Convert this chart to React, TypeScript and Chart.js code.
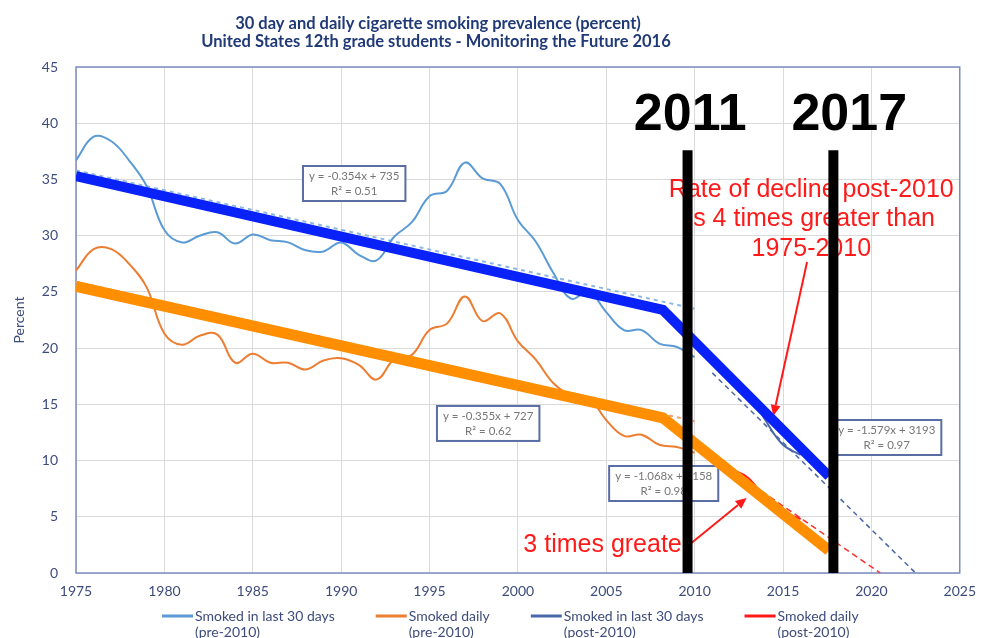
import React, { useEffect, useRef } from "react";
import { Chart, registerables } from "chart.js";

Chart.register(...registerables);

// ---------- DATA ----------
const yearsPre = [
  1975, 1976, 1977, 1978, 1979, 1980, 1981, 1982, 1983, 1984, 1985, 1986,
  1987, 1988, 1989, 1990, 1991, 1992, 1993, 1994, 1995, 1996, 1997, 1998,
  1999, 2000, 2001, 2002, 2003, 2004, 2005, 2006, 2007, 2008, 2009, 2010,
];
const smoked30Pre = [
  36.7, 38.8, 38.4, 36.7, 34.4, 30.5, 29.4, 30.0, 30.3, 29.3, 30.1, 29.6,
  29.4, 28.7, 28.6, 29.4, 28.3, 27.8, 29.9, 31.2, 33.5, 34.0, 36.5, 35.1,
  34.6, 31.4, 29.5, 26.7, 24.4, 25.0, 23.2, 21.6, 21.6, 20.4, 20.1, 19.2,
];
const smokedDailyPre = [
  26.9, 28.8, 28.8, 27.5, 25.4, 21.3, 20.3, 21.1, 21.2, 18.7, 19.5, 18.7,
  18.7, 18.1, 18.9, 19.1, 18.5, 17.2, 19.0, 19.4, 21.6, 22.2, 24.6, 22.4,
  23.1, 20.6, 19.0, 16.9, 15.8, 15.6, 13.6, 12.2, 12.3, 11.4, 11.2, 10.7,
];
const yearsPost = [2011, 2012, 2013, 2014, 2015, 2016];
const smoked30Post = [18.7, 17.1, 16.3, 13.6, 11.4, 10.5];
const smokedDailyPost = [10.3, 9.3, 8.5, 6.7, 5.5, 4.8];

// trendlines (end points)
const trend30PreYears = [1975, 2010];
const trend30PreValues = [35.8, 23.5];
const trendDailyPreYears = [1975, 2010];
const trendDailyPreValues = [25.9, 13.5];
const trend30PostYears = [2011, 2022.5];
const trend30PostValues = [17.8, 0];
const trendDailyPostYears = [2011, 2020.5];
const trendDailyPostValues = [10.3, 0];

// thick overlay lines
const thick30Years = [1975, 2008.2, 2017.6];
const thick30Values = [35.3, 23.4, 8.6];
const thickDailyYears = [1975, 2008.2, 2017.6];
const thickDailyValues = [25.5, 13.8, 2.0];

// vertical markers
const markerYears = [2009.6, 2017.85];
const markerBottom = 0;
const markerTop = 37.6;
const markerLabels = ["2011", "2017"];
const markerLabelYears = [2009.75, 2018.75];
const markerLabelValue = 39.4;

// axis ticks
const xMin = 1975;
const xMax = 2025;
const xStep = 5;
const yMin = 0;
const yMax = 45;
const yStep = 5;

// texts
const titleLines = [
  "30 day and daily cigarette smoking prevalence (percent)",
  "United States 12th grade students - Monitoring the Future 2016",
];
const yAxisTitle = "Percent";
const legendLabels = [
  ["Smoked in last 30 days", "(pre-2010)"],
  ["Smoked daily", "(pre-2010)"],
  ["Smoked in last 30 days", "(post-2010)"],
  ["Smoked daily", "(post-2010)"],
];
const equationTexts = [
  ["y = -0.354x + 735", "R² = 0.51"],
  ["y = -0.355x + 727", "R² = 0.62"],
  ["y = -1.068x + 2158", "R² = 0.98"],
  ["y = -1.579x + 3193", "R² = 0.97"],
];
const equationYears = [1990.74, 1998.32, 2008.25, 2020.87];
const equationValues = [34.64, 13.3, 7.96, 12.05];

const noteLines = ["Rate of decline post-2010", "is 4 times greater than", "1975-2010"];
const noteYear = 2016.6;
const noteValue = 33.44;
const note2Text = "3 times greater";
const note2Year = 2000.31;
const note2Value = 1.87;
const arrowStarts = [
  [2016.36, 27.66],
  [2009.68, 2.49],
];
const arrowEnds = [
  [2014.45, 13.96],
  [2012.94, 6.67],
];

// ---------- STYLE ----------
const C_LIGHTBLUE = "#5B9BD5";
const C_ORANGE = "#ED7D31";
const C_DARKBLUE = "#4A67A8";
const C_RED = "#FF1A1A";
const C_THICKBLUE = "#0A22FA";
const C_THICKORANGE = "#FF8E00";
const C_AXISTEXT = "#3E4C7C";
const C_TITLE = "#203A78";
const C_FRAME = "#7D8DC0";

const toXY = (xs: number[], ys: number[]) => xs.map((x, i) => ({ x, y: ys[i] }));

const overlayPlugin = {
  id: "overlay",
  beforeDatasetsDraw(chart: any) {
    const { ctx, chartArea: ca, scales } = chart;
    const X = (v: number) => scales.x.getPixelForValue(v);
    const Y = (v: number) => scales.y.getPixelForValue(v);
    ctx.save();
    // frame
    ctx.strokeStyle = C_FRAME;
    ctx.lineWidth = 1.5;
    ctx.strokeRect(ca.left, ca.top, ca.right - ca.left, ca.bottom - ca.top);

    // equation boxes
    ctx.font = "11.5px Lato";
    ctx.textAlign = "center";
    ctx.textBaseline = "middle";
    equationTexts.forEach((lines, i) => {
      const cx = X(equationYears[i]);
      const cy = Y(equationValues[i]);
      const w = Math.max(...lines.map((l) => ctx.measureText(l).width)) + 12;
      const h = 35;
      ctx.fillStyle = "#ffffff";
      ctx.fillRect(cx - w / 2, cy - h / 2, w, h);
      ctx.strokeStyle = "#5A6EA6";
      ctx.lineWidth = 2;
      ctx.strokeRect(cx - w / 2, cy - h / 2, w, h);
      ctx.fillStyle = "#777777";
      ctx.fillText(lines[0], cx, cy - 7.5);
      ctx.fillText(lines[1], cx, cy + 7.5);
    });

    // big year labels
    ctx.fillStyle = "#000000";
    ctx.font = "bold 52px 'Liberation Sans'";
    ctx.textAlign = "center";
    ctx.textBaseline = "alphabetic";
    markerLabels.forEach((t, i) => {
      ctx.fillText(t, X(markerLabelYears[i]), Y(markerLabelValue));
    });

    // red notes
    ctx.fillStyle = C_RED;
    ctx.font = "25px 'Liberation Sans'";
    ctx.textAlign = "center";
    noteLines.forEach((t, i) => {
      ctx.fillText(t, X(noteYear), Y(noteValue) + i * 29.5);
    });
    ctx.textAlign = "left";
    ctx.fillText(note2Text, X(note2Year), Y(note2Value));

    // arrows
    ctx.strokeStyle = C_RED;
    ctx.fillStyle = C_RED;
    ctx.lineWidth = 2;
    arrowStarts.forEach((s, i) => {
      const x0 = X(s[0]);
      const y0 = Y(s[1]);
      const x1 = X(arrowEnds[i][0]);
      const y1 = Y(arrowEnds[i][1]);
      const ang = Math.atan2(y1 - y0, x1 - x0);
      const hl = 11;
      const hw = 5;
      const bx = x1 - hl * Math.cos(ang);
      const by = y1 - hl * Math.sin(ang);
      ctx.beginPath();
      ctx.moveTo(x0, y0);
      ctx.lineTo(bx, by);
      ctx.stroke();
      ctx.beginPath();
      ctx.moveTo(x1, y1);
      ctx.lineTo(bx + hw * Math.sin(ang), by - hw * Math.cos(ang));
      ctx.lineTo(bx - hw * Math.sin(ang), by + hw * Math.cos(ang));
      ctx.closePath();
      ctx.fill();
    });
    ctx.restore();
  },
  afterDraw(chart: any) {
    const { ctx } = chart;
    ctx.save();
    // title
    ctx.fillStyle = C_TITLE;
    ctx.font = "bold 16.5px Lato";
    ctx.textAlign = "center";
    ctx.textBaseline = "alphabetic";
    ctx.fillText(titleLines[0], 438, 29);
    ctx.fillText(titleLines[1], 436, 47);

    // legend
    const colors = [C_LIGHTBLUE, C_ORANGE, C_DARKBLUE, C_RED];
    ctx.font = "14px Lato";
    ctx.textAlign = "left";
    let lx = 162;
    legendLabels.forEach((lines, i) => {
      ctx.strokeStyle = colors[i];
      ctx.lineWidth = 3;
      ctx.beginPath();
      ctx.moveTo(lx, 616);
      ctx.lineTo(lx + 31, 616);
      ctx.stroke();
      ctx.fillStyle = C_AXISTEXT;
      ctx.fillText(lines[0], lx + 33, 621);
      ctx.fillText(lines[1], lx + 33, 637);
      const w = ctx.measureText(lines[0]).width;
      lx += 33 + w + 41;
    });
    ctx.restore();
  },
};

export default function App() {
  const ref = useRef<HTMLCanvasElement | null>(null);
  useEffect(() => {
    if (!ref.current) return;
    const thin = (label: string, xs: number[], ys: number[], color: string, order: number) => ({
      label,
      data: toXY(xs, ys),
      borderColor: color,
      backgroundColor: color,
      borderWidth: 2,
      pointRadius: 0,
      tension: 0.4,
      order,
    });
    const dashed = (label: string, xs: number[], ys: number[], color: string, dash: number[], w: number) => ({
      label,
      data: toXY(xs, ys),
      borderColor: color,
      borderWidth: w,
      borderDash: dash,
      pointRadius: 0,
      tension: 0,
      order: 4,
    });
    const chart = new Chart(ref.current, {
      type: "line",
      data: {
        datasets: [
          ...markerYears.map((yr, i) => ({
            label: "marker" + i,
            data: [
              { x: yr, y: markerBottom },
              { x: yr, y: markerTop },
            ],
            borderColor: "#000000",
            borderWidth: 10,
            borderCapStyle: "butt" as const,
            pointRadius: 0,
            order: 0,
          })),
          {
            label: "thick30",
            data: toXY(thick30Years, thick30Values),
            borderColor: C_THICKBLUE,
            borderWidth: 10,
            borderJoinStyle: "miter" as const,
            borderCapStyle: "butt" as const,
            pointRadius: 0,
            order: 1,
          },
          {
            label: "thickDaily",
            data: toXY(thickDailyYears, thickDailyValues),
            borderColor: C_THICKORANGE,
            borderWidth: 11,
            borderJoinStyle: "miter" as const,
            borderCapStyle: "butt" as const,
            pointRadius: 0,
            order: 1,
          },
          thin("Smoked in last 30 days (pre-2010)", yearsPre, smoked30Pre, C_LIGHTBLUE, 2),
          thin("Smoked daily (pre-2010)", yearsPre, smokedDailyPre, C_ORANGE, 2),
          thin("Smoked in last 30 days (post-2010)", yearsPost, smoked30Post, C_DARKBLUE, 2),
          thin("Smoked daily (post-2010)", yearsPost, smokedDailyPost, C_RED, 2),
          dashed("t1", trend30PreYears, trend30PreValues, "#8DB8E2", [4, 4], 2),
          dashed("t2", trendDailyPreYears, trendDailyPreValues, "#F2A070", [4, 4], 2),
          dashed("t3", trend30PostYears, trend30PostValues, "#4A67A8", [5, 4], 1.5),
          dashed("t4", trendDailyPostYears, trendDailyPostValues, "#FF3030", [6, 4], 1.5),
        ],
      },
      options: {
        animation: false,
        responsive: true,
        maintainAspectRatio: false,
        parsing: false as any,
        layout: { padding: { left: 0, right: 19, top: 67, bottom: 0 } },
        plugins: {
          legend: { display: false },
          title: { display: false },
          tooltip: { enabled: false },
        },
        scales: {
          x: {
            type: "linear",
            min: xMin,
            max: xMax,
            afterFit: (s: any) => {
              s.height = 65;
            },
            ticks: {
              stepSize: xStep,
              padding: 10,
              color: C_AXISTEXT,
              font: { family: "Lato", size: 14 },
              callback: (v: any) => String(v),
            },
            grid: { color: "#DADADA", lineWidth: 1, drawTicks: false },
            border: { display: false },
          },
          y: {
            type: "linear",
            min: yMin,
            max: yMax,
            afterFit: (s: any) => {
              s.width = 76;
            },
            ticks: {
              stepSize: yStep,
              padding: 18,
              color: C_AXISTEXT,
              font: { family: "Lato", size: 14 },
            },
            title: {
              display: true,
              text: yAxisTitle,
              color: C_AXISTEXT,
              font: { family: "Lato", size: 14 },
              padding: { top: 11, bottom: 0 },
            },
            grid: { color: "#DADADA", lineWidth: 1, drawTicks: false },
            border: { display: false },
          },
        },
      },
      plugins: [overlayPlugin],
    } as any);
    return () => chart.destroy();
  }, []);
  return (
    <div style={{ position: "fixed", left: 0, top: 0, width: 986, height: 638, background: "#fff" }}>
      <canvas ref={ref} />
    </div>
  );
}
